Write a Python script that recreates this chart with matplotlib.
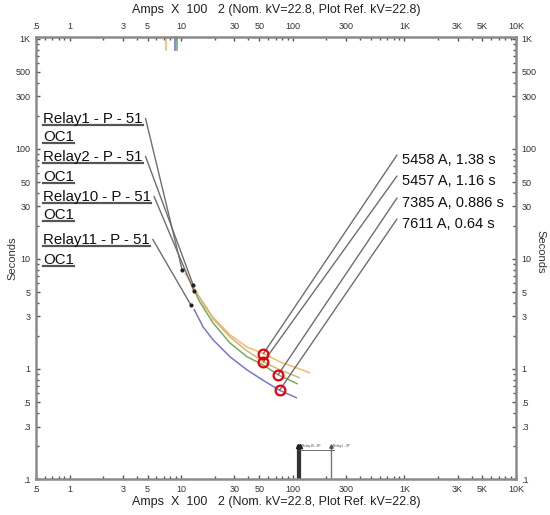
import matplotlib
matplotlib.use("Agg")
import matplotlib.pyplot as plt
from matplotlib.lines import Line2D
from matplotlib.ticker import FixedLocator, NullFormatter

plt.rcParams['font.family'] = ['Liberation Sans', 'DejaVu Sans']

# ---------------- data ----------------
x_ticks = [0.5, 1, 3, 5, 10, 30, 50, 100, 300, 1000, 3000, 5000, 10000]
x_ticklabels = [".5", "1", "3", "5", "10", "30", "50", "100", "300", "1K", "3K", "5K", "10K"]
y_ticks = [0.1, 0.3, 0.5, 1, 3, 5, 10, 30, 50, 100, 300, 500, 1000]
y_ticklabels = [".1", ".3", ".5", "1", "3", "5", "10", "30", "50", "100", "300", "500", "1K"]

orange_x = [10.8, 12.0, 13.9, 16.3, 19.3, 27.4, 38.9, 54.58, 76.8, 109, 143]
orange_y = [7.46, 6.3, 4.9, 3.66, 2.95, 2.04, 1.58, 1.38, 1.16, 1.02, 0.92]
tan_x = [12.8, 14.7, 17.0, 19.3, 27.4, 38.9, 54.57, 76.8, 116]
tan_y = [5.23, 4.42, 3.59, 2.85, 1.95, 1.46, 1.16, 0.98, 0.83]
green_x = [13.3, 14.7, 19.3, 27.4, 38.9, 54.1, 73.85, 111]
green_y = [5.0, 4.06, 2.62, 1.72, 1.29, 1.09, 0.886, 0.73]
blue_x = [13.0, 15.7, 19.3, 27.4, 38.9, 54.1, 76.11, 109]
blue_y = [3.51, 2.41, 1.84, 1.29, 0.98, 0.79, 0.64, 0.545]

curve_colors = ["#F7B96A", "#D4B67A", "#74AD62", "#7777CC"]

# fault-point markers (current in A x 100, time s)
fault_x = [54.58, 54.57, 73.85, 76.11]
fault_y = [1.38, 1.16, 0.886, 0.64]
fault_labels = ["5458 A, 1.38 s", "5457 A, 1.16 s", "7385 A, 0.886 s", "7611 A, 0.64 s"]

relay_names = ["Relay1 - P - 51", "Relay2 - P - 51", "Relay10 - P - 51", "Relay11 - P - 51"]
relay_sub = ["OC1", "OC1", "OC1", "OC1"]
relay_pt_x = [10.2, 12.8, 13.0, 12.2]
relay_pt_y = [7.94, 5.8, 5.12, 3.82]

top_mark_x = [7.37, 8.84, 9.25]
top_mark_colors = ["#F7B96A", "#7777CC", "#74AD62"]

bottom_mark_x = [111, 116, 220]

# ---------------- figure ----------------
W, H = 550, 515
fig = plt.figure(figsize=(W / 100, H / 100), dpi=100)
ax = fig.add_axes([36 / W, 1 - 479 / H, 480 / W, 442 / H])
ax.set_xscale("log")
ax.set_yscale("log")
ax.set_xlim(0.5, 10000)
ax.set_ylim(0.1, 1040)

spine_c = "#8A8A8A"
for s in ax.spines.values():
    s.set_color(spine_c)
    s.set_linewidth(1.8)

ax.xaxis.set_major_locator(FixedLocator(x_ticks))
ax.set_xticklabels(x_ticklabels)
ax.yaxis.set_major_locator(FixedLocator(y_ticks))
ax.set_yticklabels(y_ticklabels)

minor_x = [m * 10 ** e for e in range(-1, 4) for m in range(1, 10)]
minor_x = [v for v in minor_x if 0.5 <= v <= 10000 and v not in x_ticks]
minor_y = [m * 10 ** e for e in range(-1, 3) for m in range(1, 10)]
minor_y = [v for v in minor_y if 0.1 <= v <= 1000 and v not in y_ticks]
ax.xaxis.set_minor_locator(FixedLocator(minor_x))
ax.yaxis.set_minor_locator(FixedLocator(minor_y))
ax.xaxis.set_minor_formatter(NullFormatter())
ax.yaxis.set_minor_formatter(NullFormatter())

ax.tick_params(which="both", direction="in", top=True, right=True,
               labeltop=True, labelright=True, color="#555555",
               labelsize=6.5, labelcolor="#333333")
ax.tick_params(which="major", length=3, width=1, pad=4)
ax.tick_params(which="minor", length=2, width=1)

title = "Amps  X  100   2 (Nom. kV=22.8, Plot Ref. kV=22.8)"
ax.set_xlabel(title, fontsize=9, color="#222222", labelpad=2)
fig.text(276 / W, 1 - 10 / H, title, fontsize=9, color="#222222",
         ha="center", va="center")
fig.text(12 / W, 1 - 258 / H, "Seconds", fontsize=8, color="#333333",
         rotation=90, ha="center", va="center")
fig.text(540 / W, 1 - 252 / H, "Seconds", fontsize=8, color="#333333",
         rotation=270, ha="center", va="center")

# curves
for xs, ys, c in zip([orange_x, tan_x, green_x, blue_x],
                     [orange_y, tan_y, green_y, blue_y], curve_colors):
    ax.plot(xs, ys, color=c, lw=1.1, solid_capstyle="butt")

# top marks
for xv, c in zip(top_mark_x, top_mark_colors):
    ax.plot([xv, xv], [1040, 800], color=c, lw=1.2, clip_on=False)

# bottom marks
ax.plot([bottom_mark_x[0]] * 2, [0.1, 0.2], color="#333333", lw=1.6)
ax.plot([bottom_mark_x[1]] * 2, [0.1, 0.2], color="#333333", lw=1.6)
ax.plot([bottom_mark_x[2]] * 2, [0.1, 0.2], color="#777777", lw=1.0)
ax.plot([bottom_mark_x[0], 235], [0.185, 0.185], color="#555555", lw=0.6)
ax.plot(bottom_mark_x[:2], [0.2, 0.2], "^", color="#222222", ms=3)
ax.plot([bottom_mark_x[2]], [0.2], "^", color="#555555", ms=2.5)
ax.text(120, 0.19, "Relay10 - 3P", fontsize=2.3, color="#444444", va="bottom")
ax.text(228, 0.19, "Relay1 - 3P", fontsize=2.3, color="#444444", va="bottom")

# fault markers and leaders
label_cy = [160, 181, 203, 224]
for fx, fy, lab, cy in zip(fault_x, fault_y, fault_labels, label_cy):
    ax.annotate("", xy=(fx, fy), xycoords="data",
                xytext=(397, H - (cy - 5)), textcoords="figure pixels",
                arrowprops=dict(arrowstyle="-", color="#6E6E6E", lw=1.0,
                                shrinkA=0, shrinkB=0))
    fig.text(402 / W, 1 - cy / H, lab, fontsize=10.5, color="#111111",
             ha="left", va="center")
ax.plot(fault_x, fault_y, "o", ms=7, mfc="none", mec="#E8000B", mew=1.6,
        zorder=5)

# relay labels
relay_cy = [119, 157, 197, 240]
sub_cy = [137, 177, 215, 260]
fig.canvas.draw()
rend = fig.canvas.get_renderer()
for name, sub, cy, scy, px, py in zip(relay_names, relay_sub, relay_cy, sub_cy,
                                      relay_pt_x, relay_pt_y):
    t1 = fig.text(43 / W, 1 - cy / H, name, fontsize=10.8, color="#111111",
                  ha="left", va="center")
    t2 = fig.text(43 / W, 1 - scy / H, sub, fontsize=10.8, color="#111111",
                  ha="left", va="center")
    for t in (t1, t2):
        bb = t.get_window_extent(rend)
        yline = bb.y0 + 1
        fig.add_artist(Line2D([bb.x0 / W, bb.x1 / W], [yline / H, yline / H],
                              transform=fig.transFigure, color="#555555",
                              lw=1.6))
    bb1 = t1.get_window_extent(rend)
    ax.annotate("", xy=(px, py), xycoords="data",
                xytext=(bb1.x1 + 3, bb1.y0 + bb1.height * 0.55),
                textcoords="figure pixels",
                arrowprops=dict(arrowstyle="-", color="#6E6E6E", lw=1.0,
                                shrinkA=0, shrinkB=0))
ax.plot(relay_pt_x, relay_pt_y, "o", ms=2, color="#222222", zorder=5)

fig.savefig("out.png", dpi=100)
